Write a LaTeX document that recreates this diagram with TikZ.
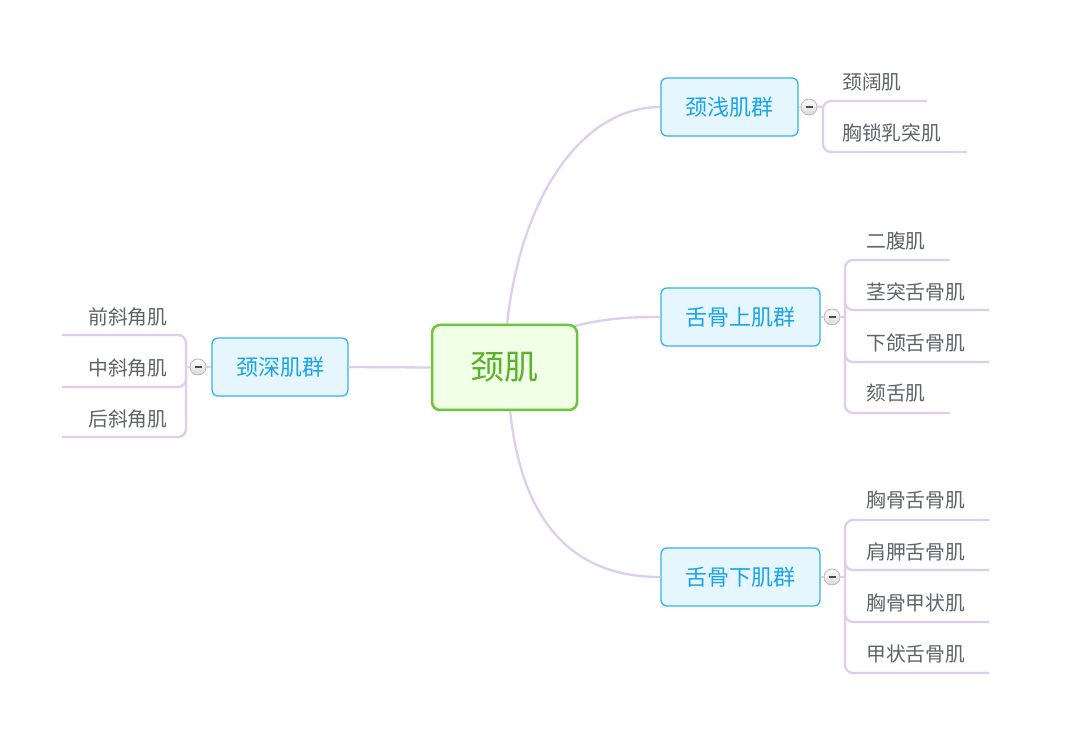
\documentclass[tikz,border=0pt]{standalone}
\usepackage{fontspec}
\newfontfamily\cjk{Noto Sans CJK SC}
\usetikzlibrary{calc}
\definecolor{lnkc}{HTML}{E0CDEE}
\definecolor{rootb}{HTML}{6CC63C}
\definecolor{rootf}{HTML}{F0FFE6}
\definecolor{roott}{HTML}{5BB22C}
\definecolor{subb}{HTML}{36B2EA}
\definecolor{subf}{HTML}{E6F6FE}
\definecolor{subt}{HTML}{1AA3E8}
\definecolor{leaft}{HTML}{5F6368}
\begin{document}
\begin{tikzpicture}[x=1pt,y=-1pt,
  root/.style={draw=rootb, line width=2.5pt, fill=rootf, rounded corners=8, minimum width=145, minimum height=85, inner sep=0, font=\cjk\fontsize{34}{38}\selectfont, text=roott},
  sub/.style={draw=subb, line width=1.3pt, fill=subf, rounded corners=6, minimum height=58, inner sep=0, font=\cjk\fontsize{22}{26}\selectfont, text=subt},
  leaf/.style={anchor=west, inner sep=0, font=\cjk\fontsize{19.8}{23}\selectfont, text=leaft},
  tog/.style={circle, draw=gray!55, line width=0.8pt, top color=white, bottom color=gray!30, minimum size=16, inner sep=0,
    path picture={\draw[line width=1.7pt, black!70] ($(path picture bounding box.center)+(-3.5,0)$) -- ($(path picture bounding box.center)+(3.5,0)$);}},
  conn/.style={draw=lnkc, line width=2.3pt},
  thin/.style={draw=lnkc, line width=1.4pt}]
\useasboundingbox (0,0) rectangle (1080,735);
\fill[white] (0,0) rectangle (1080,735);

% connectors from root
\coordinate (r1) at (507,325);
\coordinate (r2) at (571,327);
\coordinate (r3) at (510,410);
\node[sub, minimum width=137] (g1) at (729.5,107) {颈浅肌群};
\node[sub, minimum width=159] (g2) at (740.5,317) {舌骨上肌群};
\node[sub, minimum width=159] (g3) at (740.5,577) {舌骨下肌群};
\node[sub, minimum width=136] (g4) at (280,367) {颈深肌群};
\draw[conn] (r1) .. controls (520,200) and (580,107) .. (g1.west);
\draw[conn] (r2) .. controls (605,318) and (630,317) .. (g2.west);
\draw[conn] (r3) .. controls (523,535) and (583,577) .. (g3.west);
\node[root] (root) at (504.5,367.5) {颈肌};
\draw[conn] (root.west) -- (g4.east);

% toggles
\node[tog] (t1) at (809,107) {};
\node[tog] (t2) at (832,317) {};
\node[tog] (t3) at (832,577) {};
\node[tog] (t4) at (198,367) {};
\draw[thin] (g1.east) -- (t1.west);
\draw[thin] (g2.east) -- (t2.west);
\draw[thin] (g3.east) -- (t3.west);
\draw[thin] (g4.west) -- (t4.east);

% group 1
\coordinate (v1) at (823,107);
\draw[conn] (t1.east) -- (v1);
\draw[conn, rounded corners=8] (927,101) -- (823,101) -- (823,152) -- (967,152);
\node[leaf] (l11) at (842,82) {颈阔肌};
\node[leaf] (l12) at (842,133) {胸锁乳突肌};

% group 2
\coordinate (v2) at (845,317);
\draw[conn] (t2.east) -- (v2);
\draw[conn, rounded corners=8] (950,260) -- (845,260) -- (845,413) -- (950,413);
\draw[conn, rounded corners=8] (845,298) -- (845,310) -- (989,310);
\draw[conn, rounded corners=8] (845,350) -- (845,362) -- (989,362);
\node[leaf] (l21) at (866,241) {二腹肌};
\node[leaf] (l22) at (866,292) {茎突舌骨肌};
\node[leaf] (l23) at (866,343) {下颌舌骨肌};
\node[leaf] (l24) at (866,393) {颏舌肌};

% group 3
\coordinate (v3) at (845,577);
\draw[conn] (t3.east) -- (v3);
\draw[conn, rounded corners=8] (989,520) -- (845,520) -- (845,673) -- (989,673);
\draw[conn, rounded corners=8] (845,558) -- (845,570) -- (989,570);
\draw[conn, rounded corners=8] (845,610) -- (845,622) -- (989,622);
\node[leaf] (l31) at (866,500) {胸骨舌骨肌};
\node[leaf] (l32) at (866,552) {肩胛舌骨肌};
\node[leaf] (l33) at (866,603) {胸骨甲状肌};
\node[leaf] (l34) at (866,654) {甲状舌骨肌};

% group 4
\coordinate (v4) at (186,367);
\draw[conn] (t4.west) -- (v4);
\draw[conn, rounded corners=8] (62,335) -- (186,335) -- (186,437) -- (62,437);
\draw[conn, rounded corners=8] (186,375) -- (186,387) -- (62,387);
\node[leaf] (l41) at (88,317) {前斜角肌};
\node[leaf] (l42) at (88,368) {中斜角肌};
\node[leaf] (l43) at (88,419) {后斜角肌};
\end{tikzpicture}
\end{document}
